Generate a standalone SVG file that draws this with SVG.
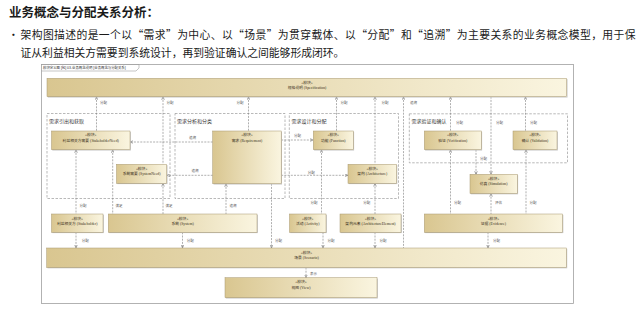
<svg xmlns="http://www.w3.org/2000/svg" width="640" height="309" viewBox="0 0 640 309">
<defs>
<linearGradient id="g" x1="0" y1="0" x2="1" y2="0">
<stop offset="0" stop-color="#d9c690"/>
<stop offset="1" stop-color="#faf5e0"/>
</linearGradient>
<marker id="a" viewBox="0 0 6 6" refX="6" refY="3" markerWidth="3.2" markerHeight="3.2" orient="auto-start-reverse" markerUnits="userSpaceOnUse"><path d="M0,0.5 L6,3 L0,5.5" fill="none" stroke="#666" stroke-width="1"/></marker>
<style>
.blk{fill:url(#g);stroke:#a89870;stroke-width:0.5}
.sh{fill:#c4c4c4}
.st{font-family:"Liberation Serif","Noto Sans CJK SC",serif;font-size:3.8px;fill:#3a3020;text-anchor:middle}
.c{fill:none;stroke:#7a7a7a;stroke-width:0.6;stroke-dasharray:2 1.2}
.grp{fill:none;stroke:#8a8a8a;stroke-width:0.6;stroke-dasharray:2.5 1.5}
.gl{font-family:"Noto Sans CJK SC",sans-serif;font-size:5px;fill:#333}
.lb{font-family:"Noto Sans CJK SC",sans-serif;font-size:3.5px;fill:#555}
.hd{font-family:"Noto Sans CJK SC",sans-serif;fill:#1a1a1a}
</style>
</defs>
<rect width="640" height="309" fill="#fff"/>
<text class="hd" x="9" y="17" font-size="12.5" font-weight="700">业务概念与分配关系分析：</text>
<text class="hd" x="8" y="38.5" font-size="10.8">•</text>
<text class="hd" x="20.5" y="38.5" font-size="10.8" textLength="615" lengthAdjust="spacing">架构图描述的是一个以“需求”为中心、以“场景”为贯穿载体、以“分配”和“追溯”为主要关系的业务概念模型，用于保</text>
<text class="hd" x="20.5" y="56.5" font-size="10.8">证从利益相关方需要到系统设计，再到验证确认之间能够形成闭环。</text>

<g id="frame">
<rect x="41.5" y="64.5" width="532" height="239" fill="#fff" stroke="#a0a0a0" stroke-width="0.8"/>
<path d="M41.5,64.5 H139 V68 L136,71 H41.5" fill="none" stroke="#a0a0a0" stroke-width="0.6"/>
<text x="43" y="69.3" font-family="Liberation Sans,'Noto Sans CJK SC',sans-serif" font-size="3.4" fill="#333">模块定义图 [包] 03-业务概念说明 [业务概念与分配关系]</text>
</g>

<g id="groups">
<rect class="grp" x="47" y="113.5" width="123" height="85"/>
<text class="gl" x="49" y="123">需求引出和获取</text>
<rect class="grp" x="175" y="113.5" width="110" height="85"/>
<text class="gl" x="177" y="123">需求分析和分类</text>
<rect class="grp" x="289.3" y="113.5" width="109.2" height="85"/>
<text class="gl" x="291.5" y="123">需求设计和分配</text>
<rect class="grp" x="409.3" y="113.8" width="158.2" height="49"/>
<text class="gl" x="411.5" y="123">需求验证和确认</text>
</g>

<g id="connectors">
<!-- spec lines -->
<path class="c" d="M96.5,96.7 V131" marker-start="url(#a)"/>
<text class="lb" x="100" y="104">分配</text>
<path class="c" d="M163,96.7 V164.3" marker-start="url(#a)"/>
<text class="lb" x="166.5" y="104">分配</text>
<path class="c" d="M248.5,96.7 V131" marker-start="url(#a)"/>
<text class="lb" x="236.5" y="104">分配</text>
<path class="c" d="M336.5,96.7 V131" marker-start="url(#a)"/>
<text class="lb" x="340.5" y="104">分配</text>
<path class="c" d="M375,96.7 V164.3" marker-start="url(#a)"/>
<text class="lb" x="381.5" y="104">分配</text>
<path class="c" d="M403.5,96.7 V248" marker-start="url(#a)"/>
<text class="lb" x="410" y="104">追溯</text>
<path class="c" d="M450.5,96.7 V131" marker-start="url(#a)"/>
<text class="lb" x="456" y="124">分配</text>
<path class="c" d="M491,96.7 V174.3" marker-end="url(#a)"/>
<text class="lb" x="496" y="124">分配</text>
<path class="c" d="M525.5,96.7 V131" marker-start="url(#a)"/>
<text class="lb" x="530" y="124">分配</text>
<!-- horizontal -->
<path class="c" d="M212.7,142 H130" marker-end="url(#a)"/>
<text class="lb" x="189" y="139">追溯</text>
<path class="c" d="M212.7,175.3 H166.7" marker-end="url(#a)"/>
<text class="lb" x="191.5" y="172">追溯</text>
<path class="c" d="M281.2,140 H313.3" marker-end="url(#a)"/>
<text class="lb" x="294" y="136.8">分配</text>
<path class="c" d="M281.2,175.3 H348" marker-end="url(#a)"/>
<text class="lb" x="307.7" y="173.5">分配</text>
<!-- lower verticals -->
<path class="c" d="M76,149.7 V214" marker-start="url(#a)"/>
<text class="lb" x="79.5" y="206.5">分配</text>
<path class="c" d="M112.7,149.7 V214" marker-start="url(#a)"/>
<text class="lb" x="115.5" y="206.5">满足</text>
<path class="c" d="M163,183.3 V214" marker-start="url(#a)"/>
<text class="lb" x="165.5" y="206.5">满足</text>
<path class="c" d="M226,183.7 V214" marker-start="url(#a)"/>
<text class="lb" x="229.5" y="206.5">追溯</text>
<path class="c" d="M271.5,183.7 V248" marker-end="url(#a)"/>
<text class="lb" x="275" y="242">分配</text>
<path class="c" d="M321.5,149.7 V214" marker-start="url(#a)"/>
<text class="lb" x="310.5" y="203.5">分配</text>
<path class="c" d="M375,183.3 V214" marker-start="url(#a)"/>
<text class="lb" x="363.3" y="203.5">分配</text>
<path class="c" d="M450.5,149.7 V214" marker-start="url(#a)"/>
<text class="lb" x="454" y="204">分配</text>
<path class="c" d="M476,149.7 V174.3" marker-end="url(#a)"/>
<text class="lb" x="480" y="160">分配</text>
<path class="c" d="M491,193.5 V214" marker-start="url(#a)"/>
<text class="lb" x="495" y="204">评估</text>
<path class="c" d="M526,149.7 V214" marker-start="url(#a)"/>
<text class="lb" x="529.5" y="204">分配</text>
<!-- to scenario -->
<path class="c" d="M76,232.3 V248" marker-end="url(#a)"/>
<text class="lb" x="81.7" y="242">分配</text>
<path class="c" d="M182.5,232.3 V248" marker-end="url(#a)"/>
<text class="lb" x="186.7" y="242">分配</text>
<path class="c" d="M323,232.3 V248" marker-end="url(#a)"/>
<text class="lb" x="327.5" y="242">分配</text>
<path class="c" d="M375,232.3 V248" marker-end="url(#a)"/>
<text class="lb" x="379.5" y="242">分配</text>
<path class="c" d="M488,232.3 V248" marker-end="url(#a)"/>
<text class="lb" x="493" y="242">分配</text>
<path class="c" d="M306,267.5 V277.7" marker-end="url(#a)"/>
<text class="lb" x="310" y="274.5">表示</text>
</g>

<g id="spec">
<rect class="sh" x="47.8" y="79.1" width="519.7" height="18.4"/>
<rect class="blk" x="47" y="78.3" width="519.7" height="18.4"/>
<text class="st" x="307" y="84">«模块»</text>
<text class="st" x="307" y="89.3">规格说明 (Specification)</text>
</g>
<g id="stakeholderNeed">
<rect class="sh" x="52.3" y="131.8" width="78.5" height="18.7"/>
<rect class="blk" x="51.5" y="131" width="78.5" height="18.7"/>
<text class="st" x="90.7" y="136.2">«模块»</text>
<text class="st" x="90.7" y="141.7">利益相关方需要 (StakeholderNeed)</text>
</g>
<g id="systemNeed">
<rect class="sh" x="117.3" y="165.1" width="50.2" height="19"/>
<rect class="blk" x="116.5" y="164.3" width="50.2" height="19"/>
<text class="st" x="141.6" y="169.5">«模块»</text>
<text class="st" x="141.6" y="175">系统需要 (SystemNeed)</text>
</g>
<g id="requirement">
<rect class="sh" x="213.5" y="131.8" width="68.5" height="52.7"/>
<rect class="blk" x="212.7" y="131" width="68.5" height="52.7"/>
<text class="st" x="247" y="136.2">«模块»</text>
<text class="st" x="247" y="141.7">需求 (Requirement)</text>
</g>
<g id="function">
<rect class="sh" x="314.1" y="131.8" width="40" height="18.7"/>
<rect class="blk" x="313.3" y="131" width="40" height="18.7"/>
<text class="st" x="333.3" y="136.2">«模块»</text>
<text class="st" x="333.3" y="141.7">功能 (Function)</text>
</g>
<g id="architecture">
<rect class="sh" x="348.8" y="165.1" width="48.5" height="19"/>
<rect class="blk" x="348" y="164.3" width="48.5" height="19"/>
<text class="st" x="372.2" y="169.5">«模块»</text>
<text class="st" x="372.2" y="175">架构 (Architecture)</text>
</g>
<g id="verification">
<rect class="sh" x="425.1" y="131.8" width="57" height="18.7"/>
<rect class="blk" x="424.3" y="131" width="57" height="18.7"/>
<text class="st" x="452.8" y="136.2">«模块»</text>
<text class="st" x="452.8" y="141.7">验证 (Verification)</text>
</g>
<g id="validation">
<rect class="sh" x="513.8" y="131.8" width="44" height="18.7"/>
<rect class="blk" x="513" y="131" width="44" height="18.7"/>
<text class="st" x="535" y="136.2">«模块»</text>
<text class="st" x="535" y="141.7">确认 (Validation)</text>
</g>
<g id="simulation">
<rect class="sh" x="470.8" y="175.1" width="47.3" height="19.2"/>
<rect class="blk" x="470" y="174.3" width="47.3" height="19.2"/>
<text class="st" x="493.6" y="179.5">«模块»</text>
<text class="st" x="493.6" y="185">仿真 (Simulation)</text>
</g>
<g id="stakeholder">
<rect class="sh" x="52.3" y="214.8" width="51.5" height="18.3"/>
<rect class="blk" x="51.5" y="214" width="51.5" height="18.3"/>
<text class="st" x="77.2" y="219.5">«模块»</text>
<text class="st" x="77.2" y="225">利益相关方 (Stakeholder)</text>
</g>
<g id="system">
<rect class="sh" x="109.1" y="214.8" width="148.7" height="18.3"/>
<rect class="blk" x="108.3" y="214" width="148.7" height="18.3"/>
<text class="st" x="182.6" y="219.5">«模块»</text>
<text class="st" x="182.6" y="225">系统 (System)</text>
</g>
<g id="activity">
<rect class="sh" x="290.3" y="214.8" width="36.5" height="18.3"/>
<rect class="blk" x="289.5" y="214" width="36.5" height="18.3"/>
<text class="st" x="307.7" y="219.5">«模块»</text>
<text class="st" x="307.7" y="225">活动 (Activity)</text>
</g>
<g id="architectureElement">
<rect class="sh" x="340.8" y="214.8" width="61" height="18.3"/>
<rect class="blk" x="340" y="214" width="61" height="18.3"/>
<text class="st" x="370.5" y="219.5">«模块»</text>
<text class="st" x="370.5" y="225">架构元素 (ArchitectureElement)</text>
</g>
<g id="evidence">
<rect class="sh" x="425.1" y="214.8" width="138.2" height="18.3"/>
<rect class="blk" x="424.3" y="214" width="138.2" height="18.3"/>
<text class="st" x="493.4" y="219.5">«模块»</text>
<text class="st" x="493.4" y="225">证据 (Evidence)</text>
</g>
<g id="scenario">
<rect class="sh" x="47.5" y="248.8" width="519.7" height="19.5"/>
<rect class="blk" x="46.7" y="248" width="519.7" height="19.5"/>
<text class="st" x="306.5" y="253.5">«模块»</text>
<text class="st" x="306.5" y="259">场景 (Scenario)</text>
</g>
<g id="view">
<rect class="sh" x="225.8" y="278.5" width="152" height="20"/>
<rect class="blk" x="225" y="277.7" width="152" height="20"/>
<text class="st" x="301" y="283.2">«模块»</text>
<text class="st" x="301" y="288.7">视图 (View)</text>
</g>
</svg>
